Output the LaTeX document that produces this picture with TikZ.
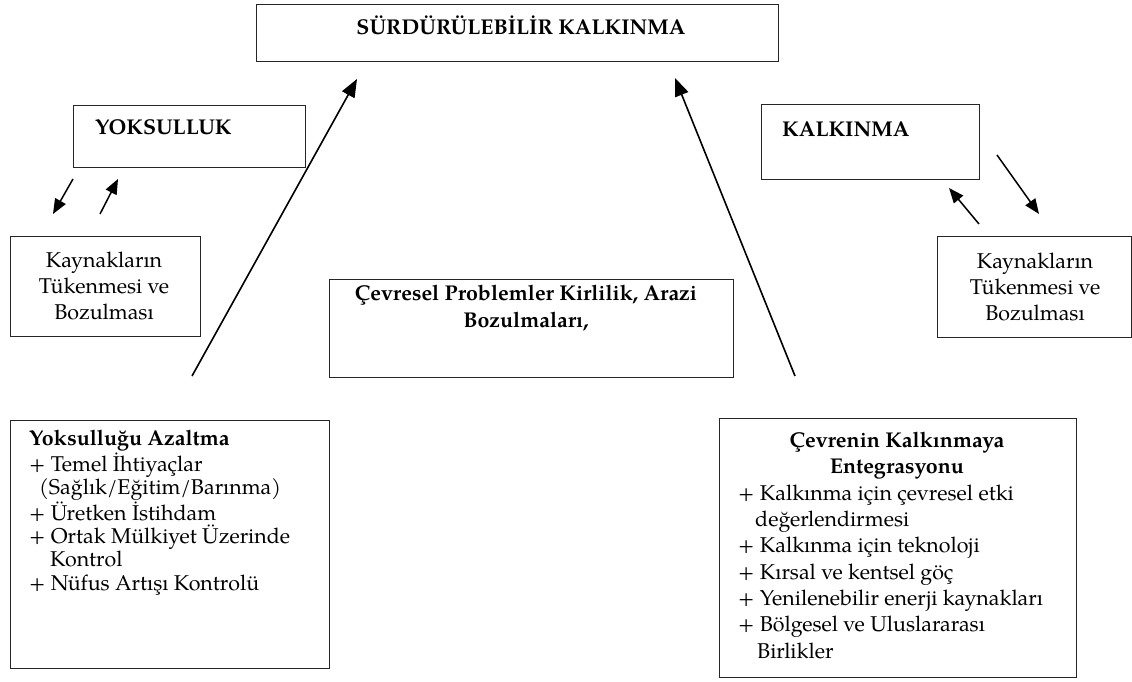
\documentclass[tikz,border=0pt]{standalone}
\usepackage{fontspec}
\setmainfont{TeX Gyre Pagella}
\usetikzlibrary{arrows.meta}
\begin{document}
\begin{tikzpicture}[x=1pt,y=-1pt,
  box/.style={draw=black!85, line width=1.3pt, inner sep=0pt, anchor=north west},
  big/.style={-{Triangle[length=18pt,width=14pt]}, line width=1.6pt},
  small/.style={-{Triangle[length=15pt,width=12pt]}, line width=1.5pt},
  tx/.style={font=\fontsize{21.4}{26}\selectfont, inner sep=0pt},
  txb/.style={font=\fontsize{21.4}{26}\selectfont\bfseries, inner sep=0pt}]
\useasboundingbox (0,0) rectangle (1132,682);
\fill[white] (0,0) rectangle (1132,682);

% boxes
\node[box, minimum width=522pt, minimum height=57pt] (top) at (256,4) {};
\node[box, minimum width=232pt, minimum height=62pt] (yok) at (73,105) {};
\node[box, minimum width=218pt, minimum height=75pt] (kal) at (761,104) {};
\node[box, minimum width=190pt, minimum height=100pt] (kl) at (10,236) {};
\node[box, minimum width=194pt, minimum height=101pt] (kr) at (937,236) {};
\node[box, minimum width=404pt, minimum height=98pt] (cev) at (329,279) {};
\node[box, minimum width=319pt, minimum height=248pt] (bl) at (10,420) {};
\node[box, minimum width=357pt, minimum height=259pt] (br) at (719,418) {};

% texts (multi-line nodes: base anchor = last line's baseline)
\node[txb, anchor=base] (ttop) at (521,35) {SÜRDÜRÜLEBİLİR KALKINMA};
\node[txb, anchor=base west] (tyok) at (95,135) {YOKSULLUK};
\node[txb, anchor=base west] (tkal) at (782,136) {KALKINMA};
\node[tx, anchor=base, align=center] (tkl) at (104,319) {Kaynakların\\Tükenmesi ve\\Bozulması};
\node[tx, anchor=base, align=center] (tkr) at (1035,320) {Kaynakların\\Tükenmesi ve\\Bozulması};
\node[txb, anchor=base, align=center, font=\fontsize{21.4}{27}\selectfont\bfseries] (tcev) at (526,327) {Çevresel Problemler Kirlilik, Arazi\\Bozulmaları,};
\node[tx, anchor=base west, align=left, font=\fontsize{21.4}{23.3}\selectfont] (tbl) at (29,590)
  {\textbf{Yoksulluğu Azaltma}\\
   + Temel İhtiyaçlar\\
   \hspace*{10pt}(Sağlık/Eğitim/Barınma)\\
   + Üretken İstihdam\\
   + Ortak Mülkiyet Üzerinde\\
   \hspace*{21pt}Kontrol\\
   + Nüfus Artışı Kontrolü};
\node[txb, anchor=base, align=center, font=\fontsize{21.4}{25.5}\selectfont\bfseries] (tbrh) at (897,473) {Çevrenin Kalkınmaya\\Entegrasyonu};
\node[tx, anchor=base west, align=left, font=\fontsize{21.4}{26.3}\selectfont] (tbr) at (738,658)
  {+ Kalkınma için çevresel etki\\
   \hspace*{17pt}değerlendirmesi\\
   + Kalkınma için teknoloji\\
   + Kırsal ve kentsel göç\\
   + Yenilenebilir enerji kaynakları\\
   + Bölgesel ve Uluslararası\\
   \hspace*{19pt}Birlikler};

% arrow end points
\coordinate (l0) at (192,376); \coordinate (l1) at (357,79);
\coordinate (r0) at (795,376); \coordinate (r1) at (675,78);
\coordinate (y1a) at (73,179); \coordinate (y1b) at (53,214);
\coordinate (y2a) at (100,214); \coordinate (y2b) at (118,179);
\coordinate (k1a) at (997,155); \coordinate (k1b) at (1039,214);
\coordinate (k2a) at (979,224); \coordinate (k2b) at (949,188);

\draw[big] (l0) -- (l1);
\draw[big] (r0) -- (r1);
\draw[small] (y1a) -- (y1b);
\draw[small] (y2a) -- (y2b);
\draw[small] (k1a) -- (k1b);
\draw[small] (k2a) -- (k2b);
\end{tikzpicture}
\end{document}
